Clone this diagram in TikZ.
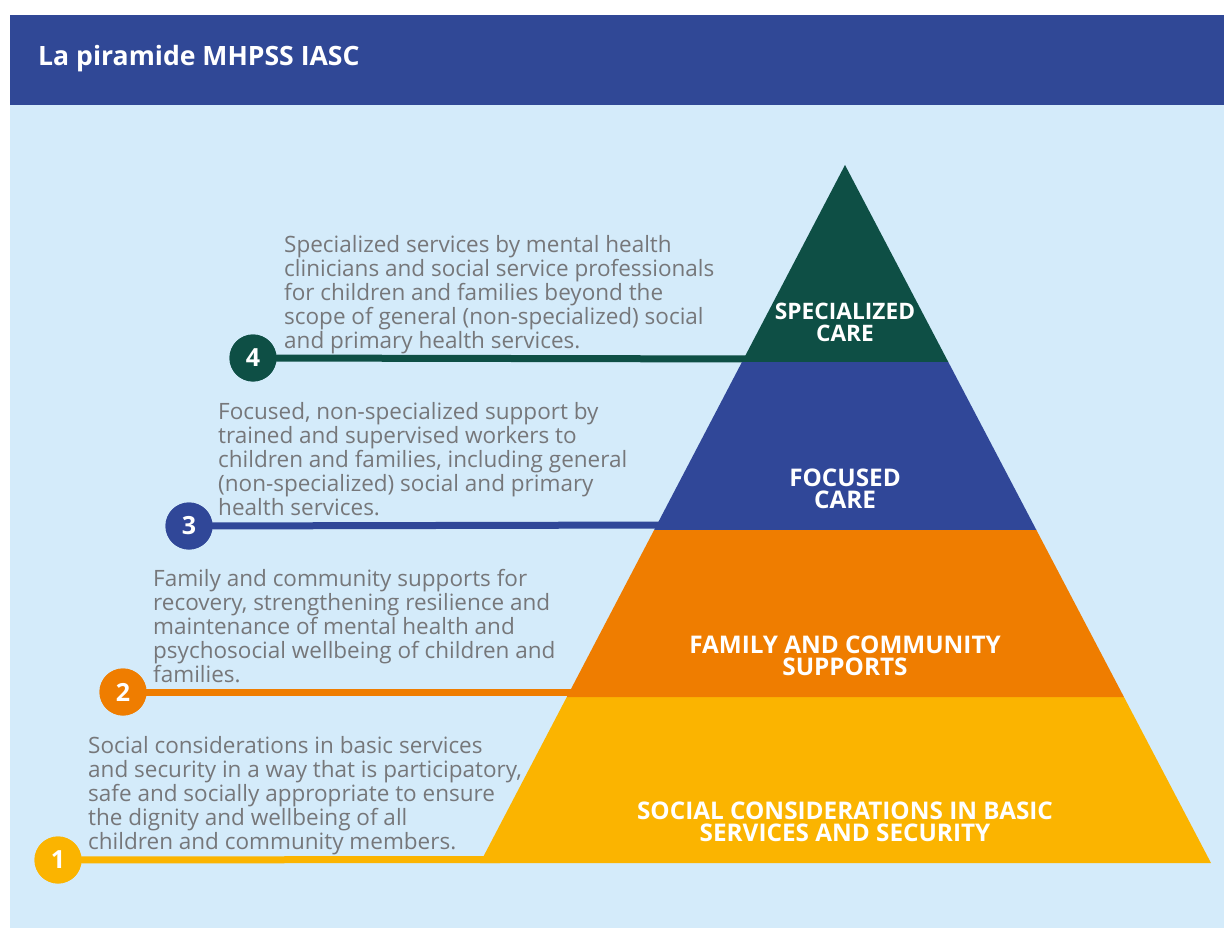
\documentclass[tikz,border=0pt]{standalone}
\usepackage{fontspec}
\setmainfont{Open Sans}
\usetikzlibrary{calc}
\definecolor{hdrblue}{RGB}{48,72,150}
\definecolor{panel}{RGB}{212,235,250}
\definecolor{lvgreen}{RGB}{14,79,69}
\definecolor{lvblue}{RGB}{48,71,152}
\definecolor{lvorange}{RGB}{239,125,0}
\definecolor{lvyellow}{RGB}{251,180,0}
\definecolor{txtgray}{RGB}{118,119,122}
\tikzset{
  desc/.style={anchor=north west, inner sep=0pt, align=left, text=txtgray,
    font=\fontsize{22.5}{24}\selectfont},
  lvlabel/.style={align=center, text=white, inner sep=0pt,
    font=\bfseries\fontsize{24.3}{22}\selectfont},
  numcirc/.style={circle, minimum size=47pt, inner sep=0pt, text=white,
    font=\bfseries\fontsize{25}{25}\selectfont},
  leader/.style={line width=7pt},
}
\begin{document}
\begin{tikzpicture}[x=1pt,y=-1pt]
\useasboundingbox (0,0) rectangle (1224,928);
\fill[white] (0,0) rectangle (1224,928);
% panel and header
\fill[panel] (10,105) rectangle (1224,928);
\fill[hdrblue] (10,15) rectangle (1224,105);
\node[anchor=west, text=white, inner sep=0pt, font=\bfseries\fontsize{26.6}{26}\selectfont] (title) at (38,59) {La piramide MHPSS IASC};
% pyramid geometry
\coordinate (apex) at (845,165);
\coordinate (bl) at (480,863);
\coordinate (br) at (1211,863);
\coordinate (l1) at ($(apex)!0.2822!(bl)$);
\coordinate (r1) at ($(apex)!0.2822!(br)$);
\coordinate (l2) at ($(apex)!0.5229!(bl)$);
\coordinate (r2) at ($(apex)!0.5229!(br)$);
\coordinate (l3) at ($(apex)!0.7622!(bl)$);
\coordinate (r3) at ($(apex)!0.7622!(br)$);
% number circles
\node[numcirc, fill=lvgreen] (c4) at (253,358) {4};
\node[numcirc, fill=lvblue] (c3) at (189,526) {3};
\node[numcirc, fill=lvorange] (c2) at (123,692) {2};
\node[numcirc, fill=lvyellow] (c1) at (58,860) {1};
\coordinate (e4) at (770,359);
\coordinate (e3) at (680,525);
\coordinate (e2) at (590,692);
\coordinate (e1) at (500,859.5);
% leader lines
\draw[leader, lvgreen] (c4.center) -- (e4);
\draw[leader, lvblue] (c3.center) -- (e3);
\draw[leader, lvorange] (c2.center) -- (e2);
\draw[leader, lvyellow] (c1.center) -- (e1);
% pyramid layers
\fill[lvyellow] (l3) -- (r3) -- (br) -- (bl) -- cycle;
\fill[lvorange] (l2) -- (r2) -- (r3) -- (l3) -- cycle;
\fill[lvblue] (l1) -- (r1) -- (r2) -- (l2) -- cycle;
\fill[lvgreen] (apex) -- (r1) -- (l1) -- cycle;
% redraw circles on top
\node[numcirc, fill=lvgreen] at (c4) {4};
\node[numcirc, fill=lvblue] at (c3) {3};
\node[numcirc, fill=lvorange] at (c2) {2};
\node[numcirc, fill=lvyellow] at (c1) {1};
% layer labels
\node[lvlabel, font=\bfseries\fontsize{22.7}{22}\selectfont] (s4) at (845,322) {SPECIALIZED\\CARE};
\node[lvlabel] (s3) at (845,489) {FOCUSED\\CARE};
\node[lvlabel] (s2) at (845,656) {FAMILY AND COMMUNITY\\SUPPORTS};
\node[lvlabel] (s1) at (845,822) {SOCIAL CONSIDERATIONS IN BASIC\\SERVICES AND SECURITY};
% descriptions
\node[desc] (t4) at (284,235) {Specialized services by mental health\\clinicians and social service professionals\\for children and families beyond the\\scope of general (non-specialized) social\\and primary health services.};
\node[desc] (t3) at (218,402) {Focused, non-specialized support by\\trained and supervised workers to\\children and families, including general\\(non-specialized) social and primary\\health services.};
\node[desc] (t2) at (153,569) {Family and community supports for\\recovery, strengthening resilience and\\maintenance of mental health and\\psychosocial wellbeing of children and\\families.};
\node[desc] (t1) at (88,736) {Social considerations in basic services\\and security in a way that is participatory,\\safe and socially appropriate to ensure\\the dignity and wellbeing of all\\children and community members.};
\end{tikzpicture}
\end{document}
